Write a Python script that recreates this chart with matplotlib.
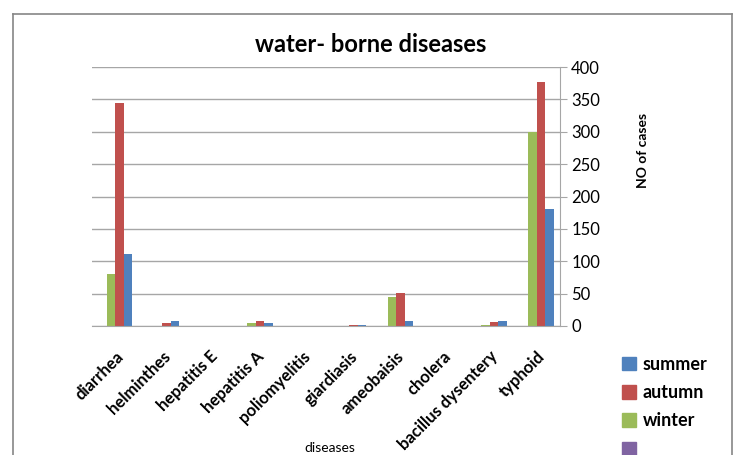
import numpy as np
import matplotlib.pyplot as plt
from matplotlib.patches import Patch
from matplotlib.lines import Line2D

# Cases per disease and season
diseases = ["diarrhea", "helminthes", "hepatitis E", "hepatitis A", "poliomyelitis",
            "giardiasis", "ameobaisis", "cholera", "bacillus dysentery", "typhoid"]
winter = [81, 0, 0, 4, 0, 0, 45, 0, 2, 300]
autumn = [344, 4, 0, 7, 0, 2, 51, 0, 6, 377]
summer = [111, 7, 0, 4, 0, 1, 7, 0, 7, 181]
other = [0, 0, 0, 0, 0, 0, 0, 0, 0, 0]

c_summer = "#4F81BD"
c_autumn = "#C0504D"
c_winter = "#9BBB59"
c_other = "#8064A2"
grid_c = "#A6A6A6"

plt.rcParams["font.family"] = ["Lato", "DejaVu Sans"]

W, H = 734, 455
fig = plt.figure(figsize=(W / 100, H / 100), dpi=100)
ax = fig.add_axes([92 / W, 1 - 326 / H, (560 - 92) / W, (326 - 67) / H])

x = np.arange(len(diseases))
w = 1 / 5.5  # four series with 150% gap
ax.bar(x - 1.5 * w, other, w, color=c_other)
ax.bar(x - 0.5 * w, winter, w, color=c_winter)
ax.bar(x + 0.5 * w, autumn, w, color=c_autumn)
ax.bar(x + 1.5 * w, summer, w, color=c_summer)

ax.set_xlim(-0.5, len(diseases) - 0.5)
ax.set_ylim(0, 400)
ax.set_yticks(np.arange(0, 401, 50))
ax.yaxis.tick_right()
ax.grid(axis="y", color=grid_c, lw=1)
ax.set_axisbelow(True)
for s in ["left", "top"]:
    ax.spines[s].set_visible(False)
ax.spines["right"].set_color(grid_c)
ax.spines["bottom"].set_color(grid_c)
ax.tick_params(axis="y", length=5, color=grid_c, labelsize=12, pad=3)
ax.tick_params(axis="x", length=0, pad=16)
ax.set_xticks(x)
ax.set_xticklabels(diseases, rotation=45, ha="right", va="top",
                   rotation_mode="anchor", fontsize=12, fontweight="bold")

fig.text(330 / W, 1 - 448 / H, "diseases", ha="center", va="center", fontsize=10)
fig.text(643 / W, 1 - 150 / H, "NO of cases", ha="center", va="center",
         rotation=90, fontsize=10, fontweight="bold")
fig.text(371 / W, 1 - 45 / H, "water- borne diseases", ha="center", va="center",
         fontsize=17, fontweight="bold")

handles = [Patch(color=c_summer), Patch(color=c_autumn),
           Patch(color=c_winter), Patch(color=c_other)]
fig.legend(handles, ["summer", "autumn", "winter", ""], loc="upper left",
           bbox_to_anchor=(622 / W, 1 - 356 / H), frameon=False,
           handlelength=0.75, handleheight=0.75, handletextpad=0.4,
           labelspacing=0.62, prop={"size": 13, "weight": "bold"},
           borderpad=0, borderaxespad=0)

# chart frame
for xs, ys in [([13, 13], [14, H + 5]), ([13, 732], [14, 14]), ([732, 732], [14, H + 5])]:
    fig.add_artist(Line2D([v / W for v in xs], [1 - v / H for v in ys],
                          color="#868686", lw=1.2))

fig.savefig("out.png", dpi=100)
